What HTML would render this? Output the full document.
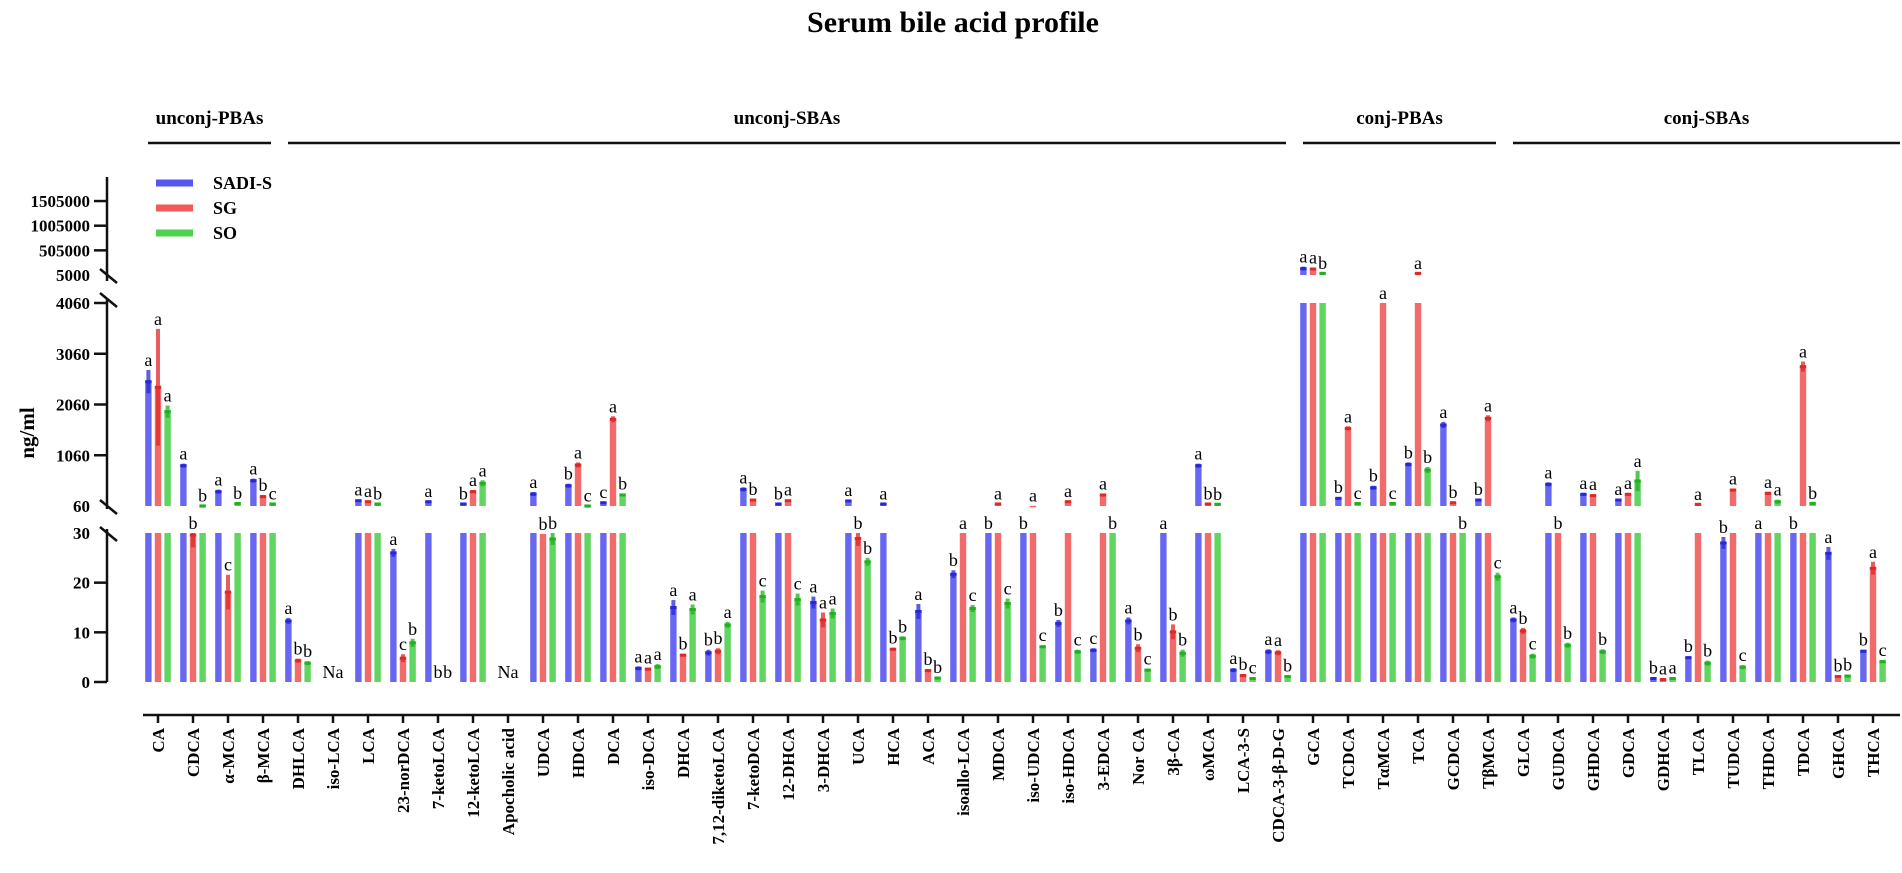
<!DOCTYPE html>
<html><head><meta charset="utf-8">
<style>
html,body{margin:0;padding:0;background:#fff;}
svg{display:block;font-family:"Liberation Serif",serif;}
</style></head>
<body>
<svg id="chart" width="1902" height="873" viewBox="0 0 1902 873">
<text x="953" y="32" text-anchor="middle" font-size="30" font-weight="bold">Serum bile acid profile</text>
</svg>
<script>
const categories = ["CA","CDCA","α-MCA","β-MCA","DHLCA","iso-LCA","LCA","23-norDCA","7-ketoLCA","12-ketoLCA","Apocholic acid","UDCA","HDCA","DCA","iso-DCA","DHCA","7,12-diketoLCA","7-ketoDCA","12-DHCA","3-DHCA","UCA","HCA","ACA","isoallo-LCA","MDCA","iso-UDCA","iso-HDCA","3-EDCA","Nor CA","3β-CA","ωMCA","LCA-3-S","CDCA-3-β-D-G","GCA","TCDCA","TαMCA","TCA","GCDCA","TβMCA","GLCA","GUDCA","GHDCA","GDCA","GDHCA","TLCA","TUDCA","THDCA","TDCA","GHCA","THCA"];
const sadisValues = [2510,855,343,560,12.3,0,165,26,145,100,0,296,460,125,2.75,15.0,5.9,388,100,16.0,160,100,14.2,21.7,35,35,11.8,6.4,12.3,45,855,2.4,6.1,135000,210,420,880,1657,178,12.5,487,290,178,0.7,4.9,28.0,40,40,25.9,6.2];
const sgValues = [2400,29.6,18.1,245,4.3,0,145,4.8,0,343,0,29.8,868,1768,2.6,5.4,6.2,178,165,12.5,28.9,6.6,2.3,45,100,65,145,277,6.8,10.1,100,1.3,5.9,127000,1590,4500,38800,125,1788,10.3,40,264,290,0.5,93,375,310,2806,1.1,22.9];
const soValues = [1920,62,110,100,3.8,0,100,7.9,0,507,0,28.8,61,277,3.1,14.6,11.5,17.2,16.6,13.8,24.2,8.8,0.8,14.8,15.8,7.1,6.1,35,2.4,5.8,95,0.7,1.1,38800,110,110,770,40,21.2,5.2,7.4,6.1,553,0.7,3.8,3.0,145,112,1.2,4.1];
const sadisSd = [230,40,40,40,0.6,0,20,0.8,10,10,0,40,40,10,0.4,1.5,0.6,40,10,1.2,20,10,1.5,0.8,0,0,0.7,0.4,0.7,0,40,0.4,0.5,40000,30,40,40,60,20,0.5,40,30,20,0.2,0.3,1.2,0,0,1.3,0.3];
const sgSd = [1150,2.5,3.5,30,0.4,0,15,0.8,0,30,0,0,50,60,0.3,0.3,0.6,20,20,1.5,1.5,0.3,0.3,0,10,0,15,30,0.8,1.5,10,0.3,0.5,30000,40,0,3000,10,60,0.6,0,30,30,0.2,10,30,30,100,0.2,1.3];
const soSd = [120,5,5,5,0.4,0,5,0.8,0,60,0,1.2,5,30,0.5,1.0,0.6,1.2,1.2,1.0,0.8,0.4,0.2,0.7,1.0,0.3,0.4,0,0.3,0.7,8,0.2,0.2,8000,8,8,60,0,0.8,0.5,0.5,0.5,200,0.2,0.5,0.4,40,10,0.3,0.3];
const letters = ["aaa","abb","acb","abc","abb","","aab","acb","abb","baa","","abb","bac","cab","aaa","aba","bba","abc","bac","aaa","abb","abb","abb","bac","bac","bac","bac","cab","abc","abb","abb","abc","aab","aab","bac","bac","bab","abb","bac","abc","abb","aab","aaa","baa","bab","bac","aaa","bab","abb","bac"];
const naCategories = ["iso-LCA","Apocholic acid"];
const yTickLabels = [0,10,20,30,60,1060,2060,3060,4060,5000,505000,1005000,1505000];
const seriesNames = ["SADI-S","SG","SO"];
const groupNames = ["unconj-PBAs","unconj-SBAs","conj-PBAs","conj-SBAs"];
const groupRanges = [[0,3],[4,32],[33,38],[39,49]];

const NS = "http://www.w3.org/2000/svg";
const svg = document.getElementById('chart');
function mk(tag, attrs, parent){
  const e = document.createElementNS(NS, tag);
  for (const k in attrs) e.setAttribute(k, attrs[k]);
  (parent||svg).appendChild(e);
  return e;
}
function segOf(v){ if (v<=30) return 0; if (v<=4060) return 1; return 2; }
function yScale(v){
  if (v<=30) return 682 - v*4.967;
  if (v<60) return 533;
  if (v<=4060) return 506 - (v-60)*0.05075;
  if (v<5000) return 303;
  return 275 - (v-5000)*0.0000493;
}
function xScale(i){ return 158 + i*35.0; }

const fills = ["#5656f2","#f25a5a","#4fd04f"];
const darks = ["#2828d8","#e02828","#20b020"];
const allVals = [sadisValues, sgValues, soValues];
const allSd = [sadisSd, sgSd, soSd];

const yAxis = mk('g', {}, svg);


[[177,281],[299,509],[529,682]].forEach(s=>{
  const l = mk('line',{x1:107,y1:s[0],x2:107,y2:s[1],stroke:'#111','stroke-width':2.5},yAxis);
  
  
});
[[269,283],[293,307],[500,514],[527,541]].forEach(s=>{
  const l = mk('line',{x1:100,y1:s[0],x2:117,y2:s[1],stroke:'#111','stroke-width':2.5},yAxis);
  
  
});
yTickLabels.forEach(v=>{
  let y = (v===60)?506:(v===30?533:(v===4060?303:(v===5000?275:yScale(v))));
  if (v>4060 && v!==5000) y = 275-(v-5000)*0.0000493;
  if (v!==5000 && v!==60 && v!==30){
    const t = mk('line',{x1:94,y1:y,x2:107,y2:y,stroke:'#111','stroke-width':2.5},yAxis);
    
    
  }
  const tx = mk('text',{x:90,y:y+6,'text-anchor':'end','font-size':17,'font-weight':'bold'},yAxis);
  tx.textContent = v;
  
  
});
const yt = mk('text',{x:0,y:0,transform:'translate(34,433) rotate(-90)','text-anchor':'middle','font-size':21,'font-weight':'bold'},svg);
yt.textContent = 'ng/ml';



const xAxis = mk('g',{},svg);


const xl = mk('line',{x1:143,y1:715,x2:1900,y2:715,stroke:'#111','stroke-width':2.5},xAxis);


categories.forEach((c,i)=>{
  const x = xScale(i);
  const t = mk('line',{x1:x,y1:715,x2:x,y2:723,stroke:'#111','stroke-width':2.5},xAxis);
  
  
  const tx = mk('text',{x:0,y:0,transform:`translate(${x+6},728) rotate(-90)`,'text-anchor':'end','font-size':17,'font-weight':'bold'},xAxis);
  tx.textContent = c;
  
  
});

groupNames.forEach((g,k)=>{
  const r = groupRanges[k];
  const x1 = xScale(r[0])-10;
  const x2 = (k===3)?1900:xScale(r[1])+8;
  const l = mk('line',{x1:x1,y1:143,x2:x2,y2:143,stroke:'#111','stroke-width':2.5},svg);
  
  
  const t = mk('text',{x:(x1+x2)/2,y:124,'text-anchor':'middle','font-size':19,'font-weight':'bold'},svg);
  t.textContent = g;
  
  
});

seriesNames.forEach((s,k)=>{
  const y = 183 + k*25;
  const sw = mk('rect',{x:156,y:y-3.5,width:37,height:7,fill:fills[k]},svg);
  
  
  const t = mk('text',{x:213,y:y+6,'font-size':18,'font-weight':'bold'},svg);
  t.textContent = s;
  
  
});

const barsG = mk('g',{},svg);


const segBounds = [[0,30],[60,4060],[5000,2e6]];
categories.forEach((c,i)=>{
  if (naCategories.indexOf(c)>=0){
    const t = mk('text',{x:xScale(i),y:678,'text-anchor':'middle','font-size':18},barsG);
    t.textContent = 'Na';
    
    
    return;
  }
  for (let k=0;k<3;k++){
    const v = allVals[k][i], sd = allSd[k][i]||0;
    const cx = xScale(i) + (k-1)*9.6;
    const w = 6.4;
    if (v>0){
      const yTop = yScale(Math.min(v,30));
      const b = mk('rect',{x:cx-w/2,y:yTop,width:w,height:682-yTop,fill:fills[k],'fill-opacity':0.9},barsG);
      
      
    }
    if (v>60){
      const yTop = yScale(Math.min(v,4060));
      const b = mk('rect',{x:cx-w/2,y:yTop,width:w,height:Math.max(506-yTop,1.5),fill:fills[k],'fill-opacity':0.9},barsG);
      
      
    }
    if (v>5000){
      const yTop = yScale(v);
      const b = mk('rect',{x:cx-w/2,y:yTop,width:w,height:Math.max(275-yTop,1.5),fill:fills[k],'fill-opacity':0.9},barsG);
      
      
    }
    let yHi = yScale(v);
    const s = segOf(v);
    if (sd>0 && v>0 && !(v>30&&v<60) && !(v>4060&&v<5000)){
      const lo = Math.max(v-sd, segBounds[s][0]);
      const hi = v+sd;
      const y1 = yScale(hi), y2 = yScale(lo);
      const e = mk('rect',{x:cx-2,y:y1,width:4,height:Math.max(y2-y1,2),fill:darks[k],'fill-opacity':0.75},barsG);
      
      
      const m = mk('rect',{x:cx-w/2,y:yScale(v)-1.5,width:w,height:3,fill:darks[k]},barsG);
      
      
      yHi = y1;
    }
    const L = letters[i].charAt(k);
    if (L){
      const t = mk('text',{x:cx,y:yHi-4,'text-anchor':'middle','font-size':18},barsG);
      t.textContent = L;
      
      
    }
  }
});
</script>
</body></html>
